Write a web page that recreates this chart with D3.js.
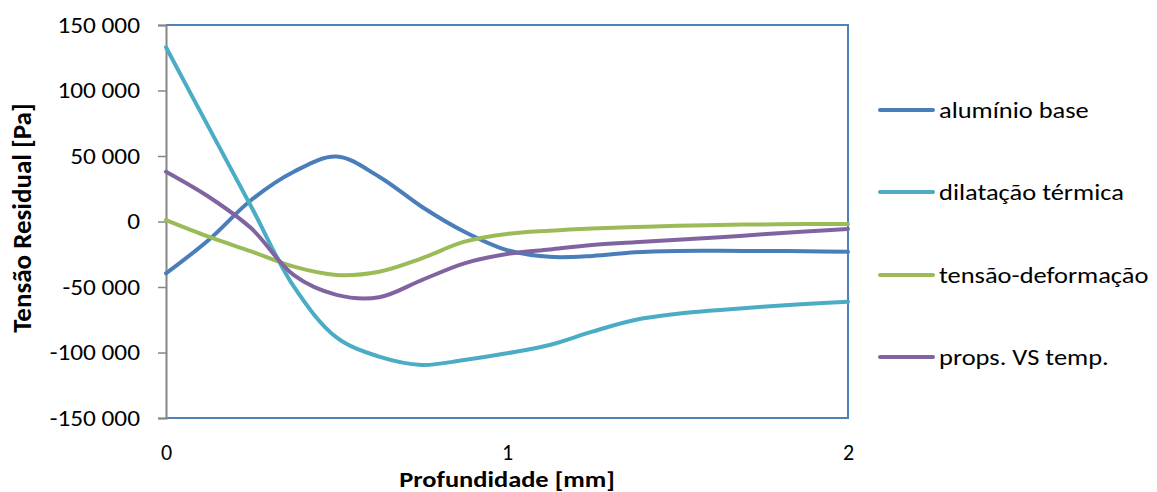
<!DOCTYPE html>
<html><head><meta charset="utf-8">
<script src="https://cdn.jsdelivr.net/npm/d3@7"></script>
<style>body{margin:0;background:#fff;} text{font-family:Carlito, Lato, "Open Sans", sans-serif;}</style>
</head><body>
<svg id="c" width="1157" height="492"></svg>
<script>
const depth = [0, 0.125, 0.25, 0.375, 0.5, 0.625, 0.75, 0.875, 1, 1.125, 1.25, 1.375, 1.5, 1.625, 1.75, 1.875, 2];
const aluminioBase = [-39600, -14100, 16400, 38000, 49600, 34200, 11300, -7800, -21800, -27000, -26300, -23500, -22500, -22400, -22500, -22700, -23000];
const dilatacaoTermica = [133000, 72000, 11300, -49800, -88500, -103200, -109500, -105700, -100600, -94300, -84100, -75200, -70500, -67500, -65000, -63000, -61200];
const tensaoDeformacao = [1100, -11600, -22800, -34500, -40800, -38300, -28100, -15400, -9500, -7000, -5300, -4200, -3200, -2600, -2200, -2000, -1900];
const propsVsTemp = [38000, 18900, -5200, -41000, -56000, -57800, -44700, -31900, -24800, -21300, -17900, -15900, -14000, -12000, -9800, -7700, -5700];
const seriesNames = ["alumínio base", "dilatação térmica", "tensão-deformação", "props. VS temp."];
const seriesValues = [aluminioBase, dilatacaoTermica, tensaoDeformacao, propsVsTemp];
const colors = ["#4A7EBB", "#4BACC6", "#9BBB59", "#8064A2"];
const yTicks = [-150000, -100000, -50000, 0, 50000, 100000, 150000];
const xTicks = [0, 1, 2];

const SX = 1.15; // horizontal stretch of the reference text
const svg = d3.select("#c");
const L = 166, R = 848, T = 25, B = 418;
const x = d3.scaleLinear().domain([0, 2]).range([L, R]);
const y = d3.scaleLinear().domain([-150000, 150000]).range([B, T]);
const fmt = v => (v < 0 ? "-" : "") + d3.format(",")(Math.abs(v)).replace(/,/g, " ");

// plot border (top, right, bottom)
svg.append("path").attr("d", `M${L},${T}H${R}V${B}H${L}`).attr("fill", "none")
  .attr("stroke", "#4F81BD").attr("stroke-width", 2);

// y axis
const yAxis = svg.append("g").attr("transform", `translate(${L},0)`)
  .call(d3.axisLeft(y).tickValues(yTicks).tickFormat(fmt).tickSize(8));
yAxis.select(".domain").attr("stroke", "#868686").attr("stroke-width", 2);
yAxis.selectAll(".tick line").attr("stroke", "#868686").attr("stroke-width", 1.5);
yAxis.selectAll(".tick text").attr("font-size", 22).attr("fill", "#000")
  .style("font-family", "Carlito, Lato, sans-serif")
  .attr("x", 0).attr("dy", "0.34em")
  .attr("transform", `translate(-26,0) scale(${SX},1)`);

// x axis labels
const xAxis = svg.append("g").attr("transform", `translate(0,${B})`)
  .call(d3.axisBottom(x).tickValues(xTicks).tickFormat(d3.format("d")).tickSize(0).tickPadding(26));
xAxis.select(".domain").remove();
xAxis.selectAll(".tick text").attr("font-size", 22).attr("fill", "#000")
  .style("font-family", "Carlito, Lato, sans-serif");

// lines
const line = d3.line().x((d, i) => x(depth[i])).y(d => y(d)).curve(d3.curveCatmullRom.alpha(0.5));
seriesValues.forEach((vals, k) => {
  svg.append("path").datum(vals).attr("d", line).attr("fill", "none")
    .attr("stroke", colors[k]).attr("stroke-width", 4).attr("stroke-linecap", "round");
});

// axis titles
svg.append("text").attr("transform", `translate(${(L + R) / 2},487) scale(${SX},1)`)
  .attr("text-anchor", "middle")
  .attr("font-size", 23).attr("font-weight", "bold").text("Profundidade [mm]");
svg.append("text").attr("transform", `translate(31,218) rotate(-90)`)
  .attr("text-anchor", "middle").attr("font-size", 27).attr("font-weight", "bold")
  .text("Tensão Residual [Pa]");

// legend
const legY = [110, 192, 275, 357];
seriesNames.forEach((n, k) => {
  svg.append("line").attr("x1", 880).attr("x2", 933).attr("y1", legY[k]).attr("y2", legY[k])
    .attr("stroke", colors[k]).attr("stroke-width", 4).attr("stroke-linecap", "round");
  svg.append("text").attr("transform", `translate(939,${legY[k]}) scale(${SX},1)`)
    .attr("dy", "0.35em")
    .attr("font-size", 23).attr("fill", "#000").text(n);
});
</script>
</body></html>
